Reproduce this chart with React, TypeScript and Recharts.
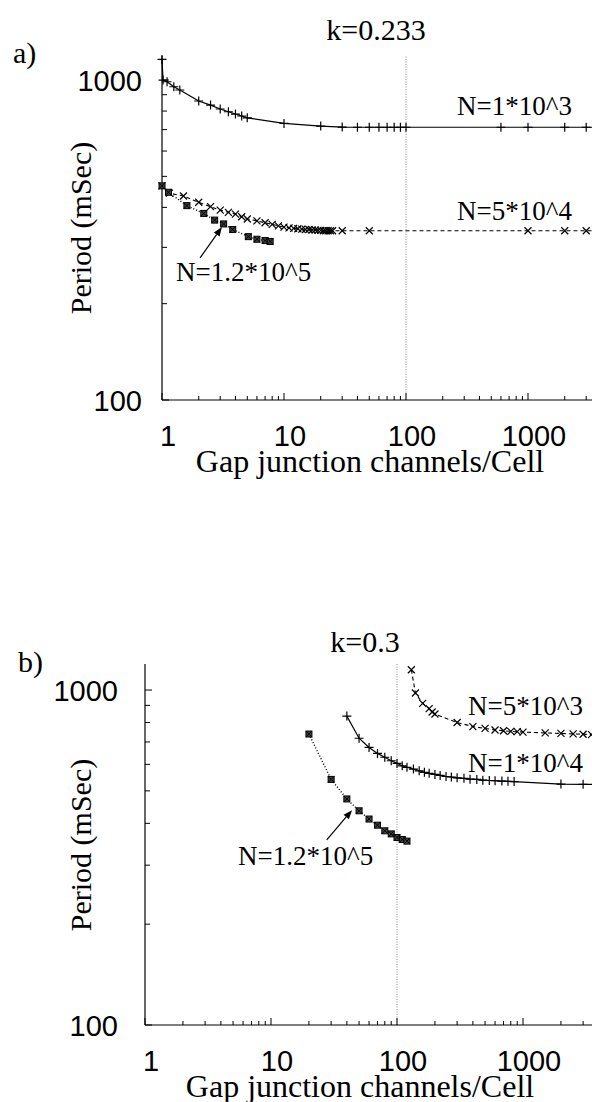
import React from 'react';
import { LineChart, Line, XAxis, YAxis, ReferenceLine } from 'recharts';

// ---------- tick values ----------
const xTicks = [1, 2, 3, 4, 5, 6, 7, 8, 9, 10, 20, 30, 40, 50, 60, 70, 80, 90, 100, 200, 300, 400, 500, 600, 700, 800, 900, 1000, 2000, 3000, 4000, 5000, 6000, 7000, 8000, 9000, 10000];
const xMajor = [1, 10, 100, 1000, 10000];
const xLabeled = [1, 10, 100, 1000];
const yTicks = [100, 200, 300, 400, 500, 600, 700, 800, 900, 1000];
const yLabeled = [100, 1000];

// ---------- panel a (k=0.233) ----------
const aN1e3X = [1, 1.02, 1.1, 1.25, 1.4, 2, 2.5, 3, 3.5, 4, 4.5, 5, 10, 20, 30, 40, 50, 60, 70, 80, 90, 100, 600, 1000, 2000, 3000, 4000];
const aN1e3Y = [1160, 1000, 988, 953, 931, 860, 835, 812, 796, 783, 772, 762, 732, 718, 713, 712, 712, 712, 712, 712, 712, 712, 712, 712, 712, 712, 712];

const aN5e4X = [1, 1.15, 1.5, 2, 2.5, 3, 3.5, 4, 4.5, 5, 6, 7, 8, 9, 10, 11, 12, 13, 14, 15, 16, 17, 18, 19, 20, 21, 22, 23, 24, 25, 30, 50, 1000, 2000, 3000, 4000];
const aN5e4Y = [467, 443, 434, 415, 402, 392, 386, 381, 374, 368, 363, 358, 354, 350, 347, 345, 344, 343, 342, 341, 341, 340, 340, 339, 339, 338, 338, 338, 338, 338, 338, 338, 338, 338, 338, 338];

const aN12e5X = [1, 1.13, 1.6, 2.2, 2.7, 3.2, 3.8, 5.1, 6, 7, 7.7];
const aN12e5Y = [467, 446, 405, 383, 365, 355, 341, 324, 318, 315, 313];

// ---------- panel b (k=0.3) ----------
const bN5e3X = [130, 140, 160, 180, 190, 200, 300, 400, 500, 600, 700, 800, 900, 1000, 1500, 2000, 2500, 3000, 3500, 4000];
const bN5e3Y = [1150, 980, 912, 880, 860, 848, 800, 778, 768, 760, 756, 753, 751, 749, 745, 742, 740, 738, 736, 735];

const bN1e4X = [40, 50, 60, 70, 80, 90, 100, 110, 120, 135, 150, 165, 180, 200, 220, 245, 270, 300, 340, 380, 430, 480, 540, 600, 680, 760, 850, 2000, 3000, 4000];
const bN1e4Y = [836, 718, 674, 647, 630, 615, 604, 594, 588, 581, 574, 568, 564, 560, 556, 552, 550, 547, 545, 542, 541, 538, 537, 536, 535, 534, 533, 524, 523, 523];

const bN12e5X = [20, 30, 40, 50, 60, 70, 80, 90, 100, 110, 120];
const bN12e5Y = [739, 541, 473, 436, 412, 395, 380, 372, 363, 358, 354];

// annotation arrows (tail, head) in data units
const aArrow = [{ x: 2.05, y: 278 }, { x: 3.1, y: 347 }];
const bArrow = [{ x: 27.7, y: 357 }, { x: 44, y: 438 }];

const zip = (xs: number[], ys: number[]) => xs.map((x, i) => ({ x, y: ys[i] }));

const SANS = '"Liberation Sans", Arial, Helvetica, sans-serif';
const SERIF = '"Liberation Serif", "Times New Roman", Times, serif';

// ---------- markers ----------
const Plus = (p: any) =>
  p.cx == null ? <g key={p.index} /> : (
    <path key={p.index} d={`M${p.cx - 4.5},${p.cy}h9M${p.cx},${p.cy - 4.5}v9`} stroke="#000" strokeWidth={1.2} fill="none" />
  );
const Cross = (p: any) =>
  p.cx == null ? <g key={p.index} /> : (
    <path key={p.index} d={`M${p.cx - 3.5},${p.cy - 3.5}l7,7M${p.cx - 3.5},${p.cy + 3.5}l7,-7`} stroke="#000" strokeWidth={1.2} fill="none" />
  );
const BoxStar = (p: any) =>
  p.cx == null ? <g key={p.index} /> : (
    <g key={p.index}>
      <rect x={p.cx - 3} y={p.cy - 3} width={6} height={6} fill="#444" stroke="#000" strokeWidth={1} />
      <path d={`M${p.cx - 3},${p.cy - 3}l6,6M${p.cx - 3},${p.cy + 3}l6,-6`} stroke="#000" strokeWidth={1} />
    </g>
  );

const Arrow = (p: any) => {
  const { x1, y1, x2, y2 } = p;
  const ang = Math.atan2(y2 - y1, x2 - x1);
  const L = 9;
  const W = 3.5;
  const bx = x2 - L * Math.cos(ang);
  const by = y2 - L * Math.sin(ang);
  const px = -Math.sin(ang) * W;
  const py = Math.cos(ang) * W;
  return (
    <g>
      <line x1={x1} y1={y1} x2={bx} y2={by} stroke="#000" strokeWidth={1.2} />
      <polygon points={`${x2},${y2} ${bx + px},${by + py} ${bx - px},${by - py}`} fill="#000" />
    </g>
  );
};

type PanelProps = {
  top: number;
  width: number;
  height: number;
  plotLeft: number;
  plotTop: number;
  plotBottom: number;
  plotRight: number;
  yTop: number;
  yLabelGap: number;
  xLabelDrop: number;
  solid: { x: number; y: number }[];
  dashed: { x: number; y: number }[];
  dotted: { x: number; y: number }[];
  solidDot: (p: any) => any;
  dashedDot: (p: any) => any;
  arrow: { x: number; y: number }[];
};

function Panel(props: PanelProps) {
  const { top, width, height, plotLeft, plotTop, plotBottom, plotRight, yTop, yLabelGap, xLabelDrop } = props;
  const margin = { top: plotTop, left: 0, right: width - plotRight, bottom: 0 };
  const xAxisHeight = height - plotBottom;

  const bottomTick = (p: any) => {
    const v = p.payload.value;
    const major = xMajor.includes(v);
    const len = major ? 7 : 4;
    return (
      <g key={`bt${v}`}>
        <line x1={p.x} x2={p.x} y1={p.y} y2={p.y - len} stroke="#000" strokeWidth={1} />
        {xLabeled.includes(v) && (
          <text x={p.x + 6} y={p.y + xLabelDrop} textAnchor="middle" fontFamily={SANS} fontSize={29} fill="#000">
            {String(v)}
          </text>
        )}
      </g>
    );
  };
  const topTick = (p: any) => {
    const v = p.payload.value;
    const major = xMajor.includes(v);
    const len = major ? 7 : 4;
    return <line key={`tt${v}`} x1={p.x} x2={p.x} y1={p.y} y2={p.y + len} stroke="#000" strokeWidth={1} />;
  };
  const leftTick = (p: any) => {
    const v = p.payload.value;
    const major = yLabeled.includes(v);
    const len = major ? 7 : 5;
    return (
      <g key={`lt${v}`}>
        <line x1={p.x} x2={p.x + len} y1={p.y} y2={p.y} stroke="#000" strokeWidth={1} />
        {major && (
          <text x={p.x - yLabelGap} y={p.y + 11} textAnchor="end" fontFamily={SANS} fontSize={29} fill="#000">
            {String(v)}
          </text>
        )}
      </g>
    );
  };

  return (
    <div style={{ position: 'absolute', left: 0, top }}>
      <LineChart width={width} height={height} margin={margin}>
        <XAxis
          xAxisId="b"
          type="number"
          dataKey="x"
          scale="log"
          domain={[1, 10000]}
          ticks={xTicks}
          interval={0}
          tickSize={0}
          tickMargin={0}
          height={xAxisHeight}
          axisLine={{ stroke: '#000', strokeWidth: 1.2 }}
          tickLine={false}
          tick={bottomTick}
        />
        <XAxis
          xAxisId="t"
          orientation="top"
          type="number"
          dataKey="x"
          scale="log"
          domain={[1, 10000]}
          ticks={xTicks}
          interval={0}
          tickSize={0}
          tickMargin={0}
          height={0}
          axisLine={{ stroke: '#000', strokeWidth: 1.2 }}
          tickLine={false}
          tick={topTick}
        />
        <YAxis
          yAxisId="l"
          type="number"
          scale="log"
          domain={[100, yTop]}
          ticks={yTicks}
          interval={0}
          width={plotLeft}
          tickSize={0}
          tickMargin={0}
          axisLine={{ stroke: '#000', strokeWidth: 1.2 }}
          tickLine={false}
          tick={leftTick}
        />
        <ReferenceLine xAxisId="b" yAxisId="l" x={100} stroke="#8a8a8a" strokeWidth={1} strokeDasharray="1 1.5" />
        <Line
          xAxisId="b"
          yAxisId="l"
          data={props.solid}
          dataKey="y"
          type="linear"
          stroke="#000"
          strokeWidth={1.2}
          dot={props.solidDot}
          activeDot={false}
          isAnimationActive={false}
        />
        <Line
          xAxisId="b"
          yAxisId="l"
          data={props.dashed}
          dataKey="y"
          type="linear"
          stroke="#000"
          strokeWidth={1.1}
          strokeDasharray="4 3"
          dot={props.dashedDot}
          activeDot={false}
          isAnimationActive={false}
        />
        <Line
          xAxisId="b"
          yAxisId="l"
          data={props.dotted}
          dataKey="y"
          type="linear"
          stroke="#000"
          strokeWidth={1.4}
          strokeDasharray="1 2"
          dot={BoxStar}
          activeDot={false}
          isAnimationActive={false}
        />
        <ReferenceLine xAxisId="b" yAxisId="l" segment={props.arrow} shape={Arrow} />
      </LineChart>
    </div>
  );
}

const T = (p: { x: number; y: number; size: number; font?: string; anchor?: string; children: string; rotate?: boolean }) => (
  <text
    x={p.x}
    y={p.y}
    fontSize={p.size}
    fontFamily={p.font || SERIF}
    textAnchor={(p.anchor as any) || 'start'}
    fill="#000"
    transform={p.rotate ? `rotate(-90 ${p.x} ${p.y})` : undefined}
  >
    {p.children}
  </text>
);

export default function App() {
  return (
    <div style={{ position: 'absolute', left: 0, top: 0, width: 592, height: 1102, overflow: 'hidden', background: '#fff' }}>
      <Panel
        top={0}
        width={700}
        height={480}
        plotLeft={162}
        plotTop={56}
        plotBottom={400}
        plotRight={650}
        yTop={1189}
        yLabelGap={20}
        xLabelDrop={46}
        solid={zip(aN1e3X, aN1e3Y)}
        dashed={zip(aN5e4X, aN5e4Y)}
        dotted={zip(aN12e5X, aN12e5Y)}
        solidDot={Plus}
        dashedDot={Cross}
        arrow={aArrow}
      />
      <Panel
        top={600}
        width={700}
        height={500}
        plotLeft={145}
        plotTop={64}
        plotBottom={425}
        plotRight={649}
        yTop={1196}
        yLabelGap={27}
        xLabelDrop={46}
        solid={zip(bN1e4X, bN1e4Y)}
        dashed={zip(bN5e3X, bN5e3Y)}
        dotted={zip(bN12e5X, bN12e5Y)}
        solidDot={Plus}
        dashedDot={Cross}
        arrow={bArrow}
      />
      <svg width={592} height={1102} style={{ position: 'absolute', left: 0, top: 0, pointerEvents: 'none' }}>
        {/* panel a */}
        <T x={13} y={63} size={30}>a)</T>
        <T x={376} y={40} size={30} anchor="middle">k=0.233</T>
        <T x={91} y={228} size={30} anchor="middle" rotate>Period (mSec)</T>
        <T x={370} y={472} size={32} anchor="middle">Gap junction channels/Cell</T>
        <T x={457} y={115} size={27}>N=1*10^3</T>
        <T x={457} y={220} size={27}>N=5*10^4</T>
        <T x={176} y={281} size={27}>N=1.2*10^5</T>
        {/* panel b */}
        <T x={18} y={672} size={30}>b)</T>
        <T x={365} y={652} size={30} anchor="middle">k=0.3</T>
        <T x={91} y={845} size={30} anchor="middle" rotate>Period (mSec)</T>
        <T x={360} y={1097} size={32} anchor="middle">Gap junction channels/Cell</T>
        <T x={468} y={715} size={27}>N=5*10^3</T>
        <T x={468} y={772} size={27}>N=1*10^4</T>
        <T x={238} y={865} size={27}>N=1.2*10^5</T>
      </svg>
    </div>
  );
}
